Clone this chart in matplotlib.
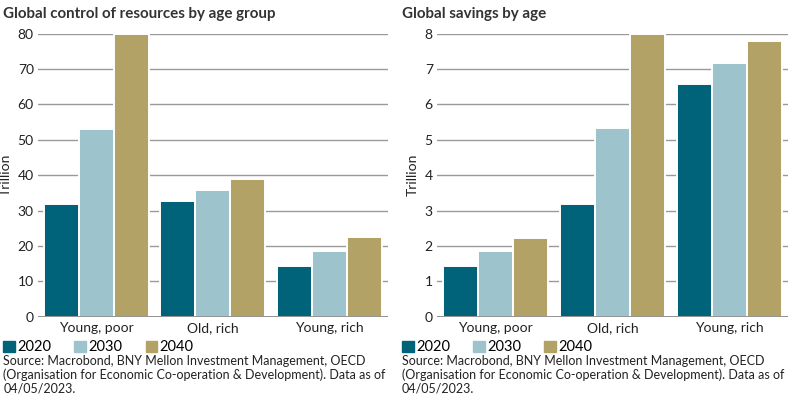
import numpy as np
import matplotlib.pyplot as plt
from matplotlib.patches import Patch

groups = ["Young, poor", "Old, rich", "Young, rich"]
years = ["2020", "2030", "2040"]

# Global control of resources (trillion)
resources_2020 = [31.9, 32.7, 14.3]
resources_2030 = [53.2, 35.8, 18.5]
resources_2040 = [80.0, 38.8, 22.4]

# Global savings (trillion)
savings_2020 = [1.42, 3.19, 6.57]
savings_2030 = [1.85, 5.33, 7.17]
savings_2040 = [2.23, 8.0, 7.79]

colors = ["#00637a", "#9dc3cc", "#b3a266"]
source = ("Source: Macrobond, BNY Mellon Investment Management, OECD\n"
          "(Organisation for Economic Co-operation & Development). Data as of\n"
          "04/05/2023.")

plt.rcParams['font.family'] = ['Lato', 'DejaVu Sans']

fig = plt.figure(figsize=(7.96, 3.98), dpi=100)
ax1 = fig.add_axes([0.0477, 0.2043, 0.4397, 0.711])
ax2 = fig.add_axes([0.549, 0.2043, 0.441, 0.711])


def draw(ax, series, ymax, title, xoff):
    x = np.arange(len(groups))
    w = 0.3
    for i, vals in enumerate(series):
        ax.bar(x + (i - 1) * w, vals, w, color=colors[i], edgecolor="white",
               linewidth=1.4, zorder=3)
    ax.set_xlim(-0.5, 2.5)
    ax.set_ylim(0, ymax)
    ax.set_yticks(np.linspace(0, ymax, 9))
    ax.yaxis.grid(True, color="#9a9a9a", linewidth=1.0, zorder=0)
    ax.axhline(0, color="#8a8a8a", linewidth=1.3, zorder=4)
    for s in ax.spines.values():
        s.set_visible(False)
    ax.tick_params(axis="both", length=0, labelsize=10, colors="#222222", pad=3)
    ax.set_xticks(x)
    ax.set_xticklabels(groups)
    ax.tick_params(axis="x", pad=4)
    ax.set_ylabel("Trillion", fontsize=10, color="#222222", labelpad=4)
    fig.text(xoff, 0.965, title, fontsize=10.9, fontweight="bold",
             color="#333333", va="center", ha="left")
    handles = [Patch(color=c) for c in colors]
    fig.legend(handles, years, loc="center left",
               bbox_to_anchor=(xoff, 0.127), ncol=3, frameon=False,
               fontsize=10.5, handlelength=0.8, handleheight=0.8,
               handletextpad=0.15, columnspacing=1.6, borderpad=0,
               borderaxespad=0)
    fig.text(xoff, 0.107, source, fontsize=9, color="#222222", va="top",
             ha="left", linespacing=1.12)


draw(ax1, [resources_2020, resources_2030, resources_2040], 80,
     "Global control of resources by age group", 0.004)
draw(ax2, [savings_2020, savings_2030, savings_2040], 8,
     "Global savings by age", 0.505)

fig.savefig("out.png", dpi=100)
